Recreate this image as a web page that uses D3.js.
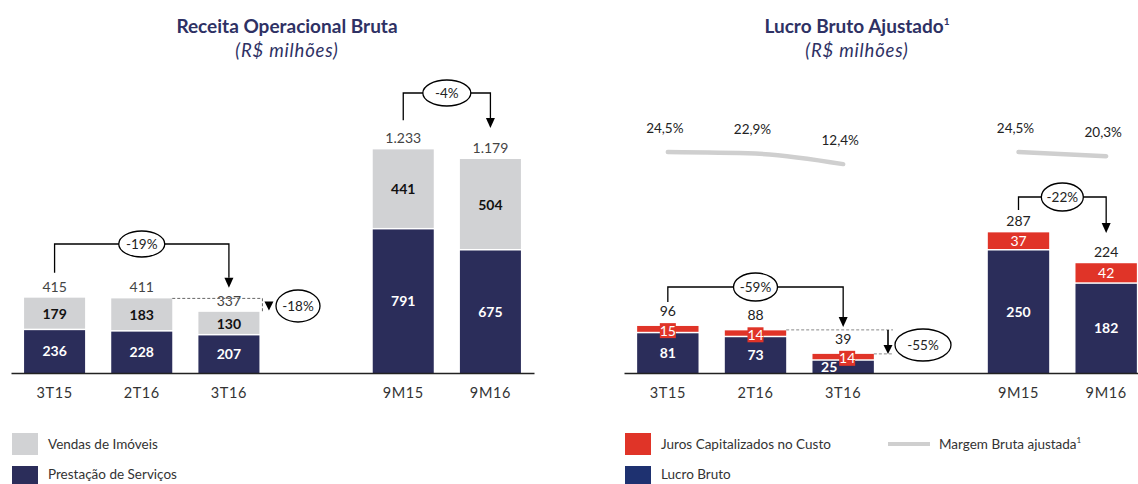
<!DOCTYPE html>
<html><head><meta charset="utf-8">
<script src="https://cdn.jsdelivr.net/npm/d3@7"></script>
<style>
body{margin:0;background:#fff;}
svg{display:block;font-family:Lato,"Open Sans",sans-serif;}
</style></head>
<body><svg id="c" width="1138" height="484"></svg>
<script>
// ---------- data ----------
const slots = ["3T15","2T16","3T16","gap","9M15","9M16"];
const categories = ["3T15","2T16","3T16","9M15","9M16"];
// Receita Operacional Bruta
const servicos = [236,228,207,791,675];
const vendas = [179,183,130,441,504];
const receitaTotal = ["415","411","337","1.233","1.179"];
// Lucro Bruto Ajustado
const lucroBruto = [81,73,25,250,182];
const juros = [15,14,14,37,42];
const lucroTotal = ["96","88","39","287","224"];
const margem = [24.5,22.9,12.4,24.5,20.3];
const margemLabels = ["24,5%","22,9%","12,4%","24,5%","20,3%"];
const fmtNum = v => String(v);

const NAVY="#2b2d5a", GRAY="#d1d2d4", RED="#e03428", TITLE="#2e3164", TXT="#333";
const svg = d3.select("#c");
const baseY = 373;

function drawAxis(x){
  const g = svg.append("g").attr("transform",`translate(0,${baseY})`)
    .call(d3.axisBottom(x).tickValues(categories).tickSize(0).tickPadding(15));
  g.select(".domain").attr("stroke","#222").attr("stroke-width",1.3);
  g.selectAll("text").attr("font-size",14.5).attr("letter-spacing","0.6px").attr("fill",TXT)
    .attr("font-family","Lato,'Open Sans',sans-serif");
}

function bracket(x1, x2, yStart1, yTop, yEnd2, label, rx, ry){
  const g = svg.append("g");
  g.append("path").attr("d",`M${x1},${yStart1}V${yTop}H${x2}V${yEnd2-10}`)
    .attr("fill","none").attr("stroke","#000").attr("stroke-width",1.3);
  g.append("path").attr("d",`M${x2-4.5},${yEnd2-10}L${x2+4.5},${yEnd2-10}L${x2},${yEnd2}Z`).attr("fill","#000");
  const cx=(x1+x2)/2;
  g.append("ellipse").attr("cx",cx).attr("cy",yTop).attr("rx",rx).attr("ry",ry)
    .attr("fill","#fff").attr("stroke","#000").attr("stroke-width",1.3);
  g.append("text").attr("x",cx).attr("y",yTop).attr("dy","0.35em").attr("text-anchor","middle")
    .attr("font-size",13.5).attr("fill","#222").text(label);
}

function title(cx, t1, t2){
  svg.append("text").attr("x",cx).attr("y",33).attr("text-anchor","middle")
    .attr("font-size",19).attr("font-weight","bold").attr("fill",TITLE).html(t1);
  svg.append("text").attr("x",cx).attr("y",57).attr("text-anchor","middle")
    .attr("font-size",18.5).attr("font-style","italic").attr("letter-spacing","0.8px").attr("fill",TITLE).text(t2);
}

// ================= LEFT CHART =================
const xL = d3.scaleBand().domain(slots).range([11,534]).paddingInner(0.3).paddingOuter(0.15);
const yL = d3.scaleLinear().domain([0,1300]).range([baseY, baseY-1300*0.1815]);

title(287,"Receita Operacional Bruta","(R$ milhões)");

categories.forEach((c,i)=>{
  const x0=xL(c), w=xL.bandwidth();
  const yS=yL(servicos[i]), yT=yL(servicos[i]+vendas[i]);
  svg.append("rect").attr("x",x0).attr("y",yS).attr("width",w).attr("height",baseY-yS).attr("fill",NAVY);
  svg.append("rect").attr("x",x0).attr("y",yT).attr("width",w).attr("height",yS-yT-1.5).attr("fill",GRAY);
  svg.append("text").attr("x",x0+w/2).attr("y",(yS+baseY)/2).attr("dy","0.35em").attr("text-anchor","middle")
    .attr("font-size",14).attr("font-weight","bold").attr("fill","#fff").text(fmtNum(servicos[i]));
  svg.append("text").attr("x",x0+w/2).attr("y",(yT+yS)/2).attr("dy","0.35em").attr("text-anchor","middle")
    .attr("font-size",14).attr("font-weight","bold").attr("fill","#111").text(fmtNum(vendas[i]));
  svg.append("text").attr("x",x0+w/2).attr("y",yT-11).attr("dy","0.35em").attr("text-anchor","middle")
    .attr("font-size",14).attr("fill","#444").text(receitaTotal[i]);
});
drawAxis(xL);

// -19%
{
  const a=xL("3T15")+xL.bandwidth()/2, b=xL("3T16")+xL.bandwidth()/2;
  bracket(a,b,yL(415)-25,244,yL(337)-24,"-19%",23,13);
}
// -4%
{
  const a=xL("9M15")+xL.bandwidth()/2, b=xL("9M16")+xL.bandwidth()/2;
  bracket(a,b,yL(1233)-29,93,yL(1179)-31,"-4%",24,13);
}
// -18% dashed
{
  const y1=yL(411), y2=yL(337), xe=xL("3T16")+xL.bandwidth()+3;
  svg.append("path").attr("d",`M${xL("2T16")+xL.bandwidth()},${y1}H${xe}V${y2}`)
    .attr("fill","none").attr("stroke","#666").attr("stroke-width",1).attr("stroke-dasharray","3,2");
  svg.append("path").attr("d",`M${xe+2},${y1+3}L${xe+11},${y1+3}L${xe+6.5},${y1+12}Z`).attr("fill","#000");
  svg.append("ellipse").attr("cx",298).attr("cy",306).attr("rx",22).attr("ry",16)
    .attr("fill","#fff").attr("stroke","#000").attr("stroke-width",1.3);
  svg.append("text").attr("x",298).attr("y",306).attr("dy","0.35em").attr("text-anchor","middle")
    .attr("font-size",13.5).attr("fill","#222").text("-18%");
}

// ================= RIGHT CHART =================
const xR = d3.scaleBand().domain(slots).range([624,1150]).paddingInner(0.3).paddingOuter(0.15);
const yR = d3.scaleLinear().domain([0,300]).range([baseY, baseY-300*0.49]);
const yM = d3.scaleLinear().domain([0,30]).range([176.5,146.5]);

title(857,"Lucro Bruto Ajustado<tspan dy='-8' font-size='10'>1</tspan>","(R$ milhões)");

// margin line
const cx = c => xR(c)+xR.bandwidth()/2;
const line = d3.line().x(d=>cx(d.c)).y(d=>yM(d.v)).curve(d3.curveMonotoneX);
const mA = categories.slice(0,3).map((c,i)=>({c,v:margem[i]}));
const mB = categories.slice(3).map((c,i)=>({c,v:margem[i+3]}));
[mA,mB].forEach(seg=>{
  svg.append("path").attr("d",line(seg)).attr("fill","none").attr("stroke","#cfcfcf")
    .attr("stroke-width",4.5).attr("stroke-linecap","round");
});
categories.forEach((c,i)=>{
  svg.append("text").attr("x",cx(c)-3).attr("y",yM(margem[i])-24).attr("dy","0.35em").attr("text-anchor","middle")
    .attr("font-size",13.5).attr("fill","#222").text(margemLabels[i]);
});

categories.forEach((c,i)=>{
  const x0=xR(c), w=xR.bandwidth();
  const yB=yR(lucroBruto[i]), yT=yR(lucroBruto[i]+juros[i]);
  const small = (baseY-yB)<20;
  svg.append("rect").attr("x",x0).attr("y",yB).attr("width",w).attr("height",baseY-yB).attr("fill",NAVY);
  svg.append("rect").attr("x",x0).attr("y",yT).attr("width",w).attr("height",yB-yT-1.5).attr("fill",RED);
  // navy label
  const ny = small ? baseY-6 : (yB+baseY)/2;
  const nx = small ? x0+w/2-14 : x0+w/2;
  svg.append("text").attr("x",nx).attr("y",ny).attr("dy","0.35em").attr("text-anchor","middle")
    .attr("font-size",14).attr("font-weight","bold").attr("fill","#fff").text(fmtNum(lucroBruto[i]));
  // red label with red background
  const thin=(yB-yT)<12;
  const ry=(yT+yB)/2+(thin?1:0);
  const rx = small ? x0+w/2+4 : x0+w/2;
  svg.append("rect").attr("x",rx-8).attr("y",ry-7.5).attr("width",16).attr("height",15).attr("fill",RED);
  svg.append("text").attr("x",rx).attr("y",ry).attr("dy","0.35em").attr("text-anchor","middle")
    .attr("font-size",14).attr("fill","#fff").text(fmtNum(juros[i]));
  svg.append("text").attr("x",x0+w/2).attr("y",yT-11-(thin?4:0)).attr("dy","0.35em").attr("text-anchor","middle")
    .attr("font-size",14).attr("fill","#222").text(lucroTotal[i]);
});
drawAxis(xR);

// -59%
bracket(cx("3T15"),cx("3T16"),302,287,327,"-59%",22,14);
// -22%
bracket(cx("9M15"),cx("9M16"),210,197,233,"-22%",21,14);
// -55%
{
  const y1=yR(88), y2=yR(39), xs=xR("2T16")+xR.bandwidth(), xe=893;
  svg.append("path").attr("d",`M${xs},${y1}H${xe}`).attr("stroke","#888").attr("stroke-width",1).attr("stroke-dasharray","3,2");
  svg.append("path").attr("d",`M${xR("3T16")+xR.bandwidth()},${y2}H${xe}`).attr("stroke","#888").attr("stroke-width",1).attr("stroke-dasharray","3,2");
  svg.append("path").attr("d",`M888,${y1}V${y2-9}`).attr("stroke","#000").attr("stroke-width",1.6);
  svg.append("path").attr("d",`M883.5,${y2-9}L892.5,${y2-9}L888,${y2}Z`).attr("fill","#000");
  svg.append("ellipse").attr("cx",923).attr("cy",345).attr("rx",28).attr("ry",16)
    .attr("fill","#fff").attr("stroke","#000").attr("stroke-width",1.3);
  svg.append("text").attr("x",923).attr("y",345).attr("dy","0.35em").attr("text-anchor","middle")
    .attr("font-size",13.5).attr("fill","#222").text("-55%");
}

// ================= LEGENDS =================
function legSq(x,y,ty,color,label){
  svg.append("rect").attr("x",x).attr("y",y).attr("width",26).attr("height",22).attr("fill",color);
  svg.append("text").attr("x",x+36).attr("y",ty).attr("dy","0.35em").attr("font-size",13.5).attr("fill",TXT).text(label);
}
legSq(12,433,444,GRAY,"Vendas de Imóveis");
legSq(12,466,474,NAVY,"Prestação de Serviços");
legSq(625,433,444,RED,"Juros Capitalizados no Custo");
legSq(625,466,474,"#1e3170","Lucro Bruto");
svg.append("line").attr("x1",888).attr("x2",930).attr("y1",444).attr("y2",444).attr("stroke","#cfcfcf").attr("stroke-width",4);
svg.append("text").attr("x",939).attr("y",444).attr("dy","0.35em").attr("font-size",13.5).attr("fill",TXT)
  .html("Margem Bruta ajustada<tspan dy='-6' font-size='8'>1</tspan>");
</script></body></html>
